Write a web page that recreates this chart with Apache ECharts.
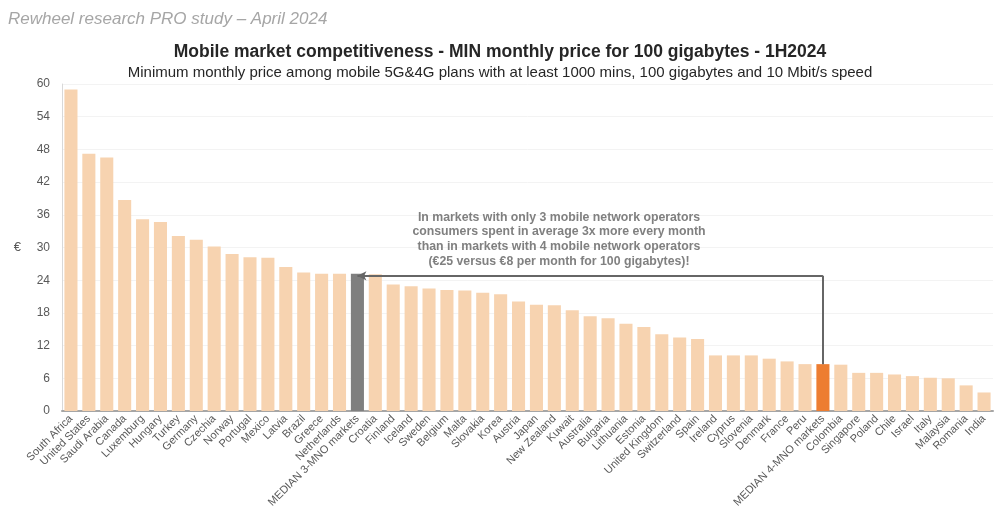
<!DOCTYPE html>
<html>
<head>
<meta charset="utf-8">
<script src="https://cdn.jsdelivr.net/npm/echarts@6/dist/echarts.min.js"></script>
<style>
html,body{margin:0;padding:0;background:#fff;}
#chart{width:1000px;height:518px;}
</style>
</head>
<body>
<div id="chart"></div>
<script>
const categories = ["South Africa","United States","Saudi Arabia","Canada","Luxemburg","Hungary","Turkey","Germany","Czechia","Norway","Portugal","Mexico","Latvia","Brazil","Greece","Netherlands","MEDIAN 3-MNO markets","Croatia","Finland","Iceland","Sweden","Belgium","Malta","Slovakia","Korea","Austria","Japan","New Zealand","Kuwait","Australia","Bulgaria","Lithuania","Estonia","United Kingdom","Switzerland","Spain","Ireland","Cyprus","Slovenia","Denmark","France","Peru","MEDIAN 4-MNO markets","Colombia","Singapore","Poland","Chile","Israel","Italy","Malaysia","Romania","India"];
const prices = [59.0,47.2,46.5,38.7,35.2,34.7,32.1,31.4,30.2,28.8,28.2,28.1,26.4,25.4,25.2,25.2,25.2,25.1,23.2,22.9,22.5,22.2,22.1,21.7,21.4,20.1,19.5,19.4,18.5,17.4,17.0,16.0,15.4,14.1,13.5,13.2,10.2,10.2,10.2,9.6,9.1,8.6,8.6,8.5,7.0,7.0,6.7,6.4,6.1,6.0,4.7,3.4];
const yTicks = [0,6,12,18,24,30,36,42,48,54,60];
const median3 = "MEDIAN 3-MNO markets";
const median4 = "MEDIAN 4-MNO markets";
const arrowLevel = 24.8;
const noteLines = [
  "In markets with only 3 mobile network operators",
  "consumers spent in average 3x more every month",
  "than in markets with 4 mobile network operators",
  "(€25 versus €8 per month for 100 gigabytes)!"
];

const FONT = '"Liberation Sans", Arial, sans-serif';
const i3 = categories.indexOf(median3);
const i4 = categories.indexOf(median4);

const barData = prices.map((v, i) => {
  let color = '#f7d3b0';
  if (categories[i] === median3) color = '#7f7f7f';
  if (categories[i] === median4) color = '#ed7d31';
  return { value: v, itemStyle: { color } };
});

const chart = echarts.init(document.getElementById('chart'), null, {renderer: 'canvas'});
chart.setOption({
  animation: false,
  backgroundColor: '#ffffff',
  title: [
    { text: 'Rewheel research PRO study – April 2024', left: 3, top: 6,
      textStyle: { fontFamily: FONT, fontSize: 17, fontStyle: 'italic', fontWeight: 'normal', color: '#a6a6a6' } },
    { text: 'Mobile market competitiveness - MIN monthly price for 100 gigabytes - 1H2024', left: 'center', top: 38,
      textStyle: { fontFamily: FONT, fontSize: 17.5, fontWeight: 'bold', color: '#262626' } },
    { text: 'Minimum monthly price among mobile 5G&4G plans with at least 1000 mins, 100 gigabytes and 10 Mbit/s speed', left: 'center', top: 60,
      textStyle: { fontFamily: FONT, fontSize: 15, fontWeight: 'normal', color: '#262626' } }
  ],
  grid: { left: 62, right: 7, top: 84, bottom: 107, containLabel: false },
  xAxis: {
    type: 'category',
    data: categories,
    axisTick: { show: false },
    axisLine: { lineStyle: { color: '#a6a6a6', width: 2 } },
    axisLabel: { interval: 0, rotate: 45, fontFamily: FONT, fontSize: 11, color: '#595959', margin: 6 }
  },
  yAxis: {
    type: 'value',
    min: yTicks[0],
    max: yTicks[yTicks.length - 1],
    interval: yTicks[1] - yTicks[0],
    name: '€',
    nameLocation: 'middle',
    nameGap: 41,
    nameRotate: 0,
    nameTextStyle: { fontFamily: FONT, fontSize: 13, color: '#595959' },
    axisLine: { show: true, lineStyle: { color: '#d9d9d9', width: 1 } },
    axisTick: { show: false },
    axisLabel: { fontFamily: FONT, fontSize: 12, color: '#595959', margin: 12 },
    splitLine: { lineStyle: { color: '#f3f3f3', width: 1 } }
  },
  graphic: [{
    type: 'text',
    z: 100,
    x: 559, y: 210,
    style: {
      text: noteLines.join('\n'),
      font: 'bold 12.3px ' + FONT,
      fill: '#808080', textAlign: 'center', textVerticalAlign: 'top', lineHeight: 14.7
    }
  }],
  series: [{
    type: 'bar',
    data: barData,
    barCategoryGap: '27%',
    markLine: {
      silent: true,
      symbol: ['none', 'none'],
      label: { show: false },
      lineStyle: { color: '#666666', width: 2, type: 'solid' },
      data: [
        [ { coord: [i4, arrowLevel] }, { coord: [i4, prices[i4]] } ],
        [ { coord: [i4, arrowLevel], symbol: 'none' }, { coord: [i3 + 0.38, arrowLevel], symbol: 'arrow', symbolSize: [7, 9] } ]
      ]
    }
  }]
});
</script>
</body>
</html>
